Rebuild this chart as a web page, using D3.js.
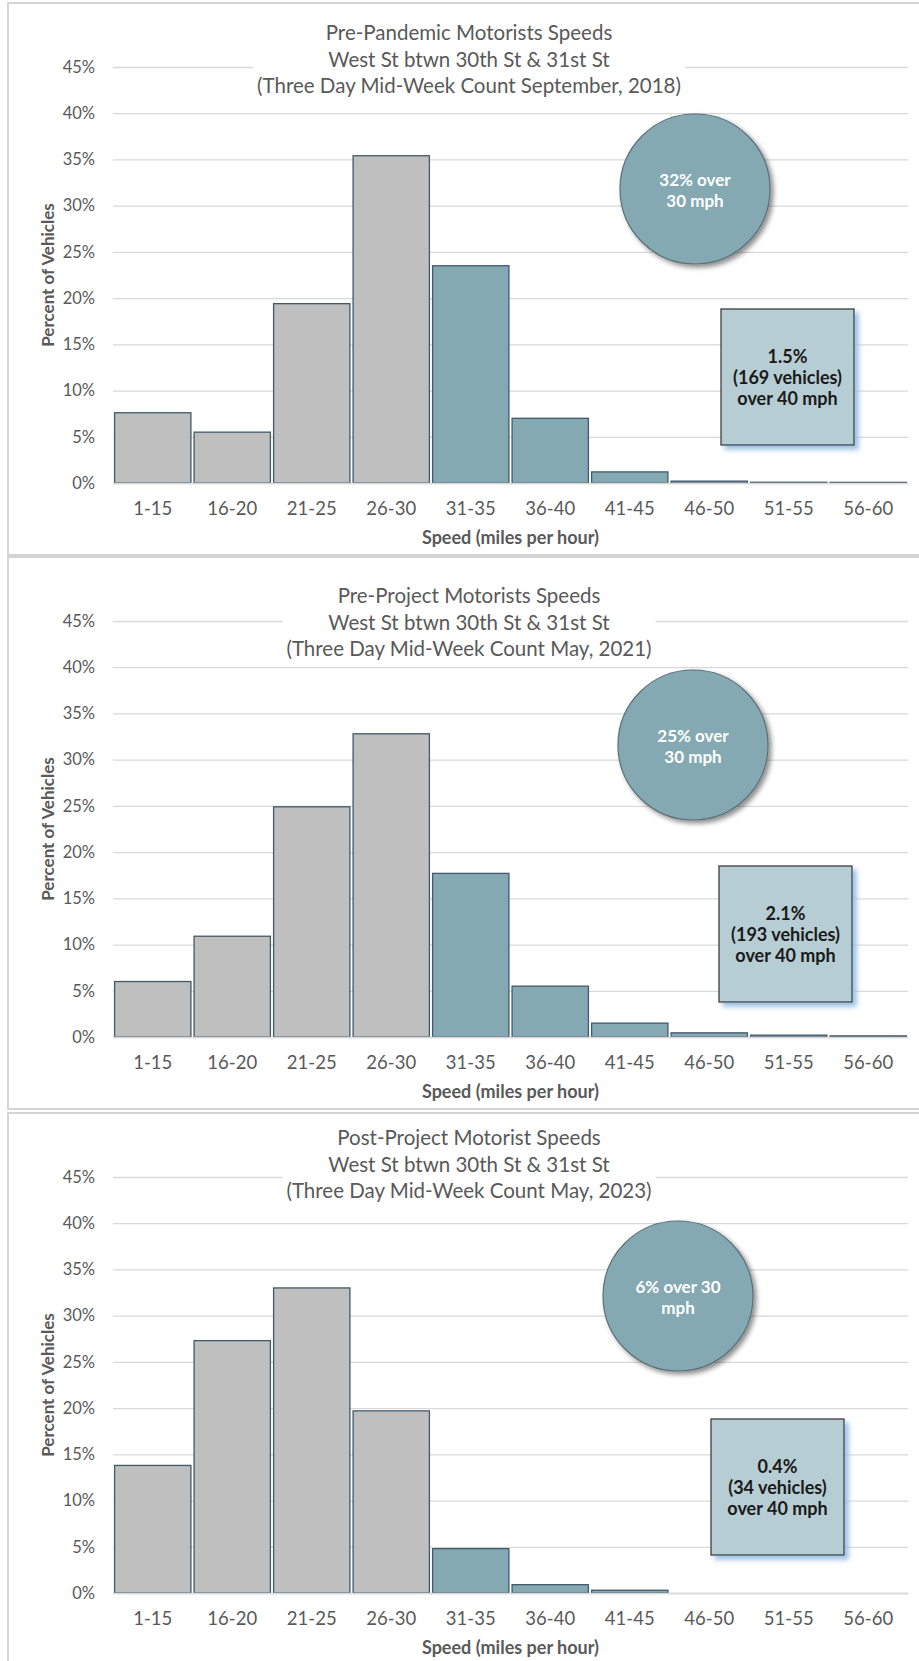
<!DOCTYPE html>
<html>
<head>
<meta charset="utf-8">
<script src="https://cdn.jsdelivr.net/npm/d3@7"></script>
<style>
  body { margin: 0; background: #fff; }
  svg text { font-family: Lato, "Open Sans", sans-serif; }
</style>
</head>
<body>
<div id="chart"></div>
<script>
// speed bins (mph)
var categories = ['1-15', '16-20', '21-25', '26-30', '31-35', '36-40', '41-45', '46-50', '51-55', '56-60'];

// percent of vehicles in each bin
var sept2018 = [7.6, 5.5, 19.4, 35.4, 23.5, 7.0, 1.2, 0.2, 0.08, 0.07];
var may2021 = [6.0, 10.9, 24.9, 32.8, 17.7, 5.5, 1.5, 0.45, 0.2, 0.12];
var may2023 = [13.8, 27.3, 33.0, 19.7, 4.8, 0.9, 0.3, 0, 0, 0];

var yTicks = [0, 5, 10, 15, 20, 25, 30, 35, 40, 45];

var titles = [
  ['Pre-Pandemic Motorists Speeds', 'West St btwn 30th St & 31st St', '(Three Day Mid-Week Count September, 2018)'],
  ['Pre-Project Motorists Speeds', 'West St btwn 30th St & 31st St', '(Three Day Mid-Week Count May, 2021)'],
  ['Post-Project Motorist Speeds', 'West St btwn 30th St & 31st St', '(Three Day Mid-Week Count May, 2023)']
];
var circleLabels = [
  ['32% over', '30 mph'],
  ['25% over', '30 mph'],
  ['6% over 30', 'mph']
];
var boxLabels = [
  ['1.5%', '(169 vehicles)', 'over 40 mph'],
  ['2.1%', '(193 vehicles)', 'over 40 mph'],
  ['0.4%', '(34 vehicles)', 'over 40 mph']
];

// where each panel sits (not data)
var panels = [
  { values: sept2018, top: 3,    titleY: 29, circle: [695, 186], box: [721, 306] },
  { values: may2021,  top: 557,  titleY: 38, circle: [693, 188], box: [719, 309] },
  { values: may2023,  top: 1113, titleY: 24, circle: [678, 183], box: [711, 306] }
];

var W = 919, H = 1661;
var plotLeft = 113, plotRight = 908, plotTop = 64, plotBottom = 480;
var grey = '#bfbfbf', teal = '#84a9b3', barStroke = '#41596b';

var svg = d3.select('#chart').append('svg')
  .attr('width', W)
  .attr('height', H);

var defs = svg.append('defs');
var sh = defs.append('filter').attr('id', 'circleShadow')
  .attr('x', '-20%').attr('y', '-20%').attr('width', '150%').attr('height', '150%');
sh.append('feDropShadow').attr('dx', 3).attr('dy', 3).attr('stdDeviation', 2.5)
  .attr('flood-color', '#000').attr('flood-opacity', 0.45);
var bs = defs.append('filter').attr('id', 'boxShadow')
  .attr('x', '-20%').attr('y', '-20%').attr('width', '150%').attr('height', '150%');
bs.append('feDropShadow').attr('dx', 4).attr('dy', 4).attr('stdDeviation', 2.5)
  .attr('flood-color', '#8fb9e3').attr('flood-opacity', 0.9);

var x = d3.scaleBand()
  .domain(categories)
  .range([plotLeft, plotRight])
  .paddingInner(0.04)
  .paddingOuter(0.02);

var y = d3.scaleLinear()
  .domain([0, 45])
  .range([plotBottom, plotTop]);

function drawPanel(p, i) {
  var g = svg.append('g').attr('transform', 'translate(0,' + p.top + ')');

  // panel frame
  g.append('rect')
    .attr('x', 8).attr('y', 0)
    .attr('width', 940).attr('height', 552)
    .attr('fill', '#fff')
    .attr('stroke', '#d4d4d4')
    .attr('stroke-width', 2);

  // gridlines + y labels
  var yAxis = d3.axisLeft(y)
    .tickValues(yTicks)
    .tickSize(-(plotRight - plotLeft))
    .tickFormat(function(d) { return d + '%'; });
  var ya = g.append('g')
    .attr('transform', 'translate(' + plotLeft + ',0)')
    .call(yAxis);
  ya.select('.domain').remove();
  ya.selectAll('.tick line').attr('stroke', '#d9d9d9').attr('stroke-width', 1.3);
  ya.selectAll('.tick text')
    .attr('x', -18)
    .attr('fill', '#595959')
    .style('font-size', '16.5px');

  // bars
  g.selectAll('.bar')
    .data(p.values)
    .enter().append('rect')
    .attr('class', 'bar')
    .attr('x', function(d, j) { return x(categories[j]); })
    .attr('y', function(d) { return y(d); })
    .attr('width', x.bandwidth())
    .attr('height', function(d) { return plotBottom - y(d); })
    .attr('fill', function(d, j) { return j >= 4 ? teal : grey; })
    .attr('stroke', function(d) { return d > 0 ? barStroke : 'none'; })
    .attr('stroke-width', 1.3);

  // x axis labels
  var xa = g.append('g')
    .attr('transform', 'translate(0,' + plotBottom + ')')
    .call(d3.axisBottom(x).tickSize(0));
  xa.select('.domain').attr('stroke', '#d9d9d9').attr('stroke-width', 1.3);
  xa.selectAll('.tick text')
    .attr('dy', 0)
    .attr('y', 25)
    .attr('dominant-baseline', 'central')
    .attr('fill', '#595959')
    .style('font-size', '18.5px');

  g.append('text')
    .attr('x', (plotLeft + plotRight) / 2)
    .attr('y', 534)
    .attr('text-anchor', 'middle')
    .attr('dominant-baseline', 'central')
    .attr('fill', '#595959')
    .attr('font-weight', 'bold')
    .style('font-size', '18px')
    .text('Speed (miles per hour)');

  g.append('text')
    .attr('transform', 'translate(47,' + (plotTop + plotBottom) / 2 + ') rotate(-90)')
    .attr('text-anchor', 'middle')
    .attr('dominant-baseline', 'central')
    .attr('fill', '#595959')
    .attr('font-weight', 'bold')
    .style('font-size', '17px')
    .text('Percent of Vehicles');

  // title with white backing over gridlines
  var tg = g.append('g');
  var bg = tg.append('rect').attr('fill', '#fff');
  tg.selectAll('text')
    .data(titles[i])
    .enter().append('text')
    .attr('x', 469)
    .attr('y', function(d, k) { return p.titleY + k * 26.5; })
    .attr('text-anchor', 'middle')
    .attr('dominant-baseline', 'central')
    .attr('fill', '#595959')
    .style('font-size', '20.5px')
    .text(function(d) { return d; });
  var bb = tg.node().getBBox();
  bg.attr('x', bb.x - 4).attr('y', bb.y - 2)
    .attr('width', bb.width + 8).attr('height', bb.height + 4);

  // circle callout
  g.append('circle')
    .attr('cx', p.circle[0]).attr('cy', p.circle[1]).attr('r', 75)
    .attr('fill', teal)
    .attr('stroke', '#5b6f78')
    .attr('stroke-width', 1.2)
    .attr('filter', 'url(#circleShadow)');
  g.selectAll('.ctext')
    .data(circleLabels[i])
    .enter().append('text')
    .attr('x', p.circle[0])
    .attr('y', function(d, k) { return p.circle[1] - 10 + k * 21; })
    .attr('text-anchor', 'middle')
    .attr('dominant-baseline', 'central')
    .attr('fill', '#fff')
    .attr('font-weight', 'bold')
    .style('font-size', '17px')
    .text(function(d) { return d; });

  // box callout
  g.append('rect')
    .attr('x', p.box[0]).attr('y', p.box[1])
    .attr('width', 133).attr('height', 136)
    .attr('fill', '#b7cdd4')
    .attr('stroke', '#3c3c3c')
    .attr('stroke-width', 1.3)
    .attr('filter', 'url(#boxShadow)');
  g.selectAll('.btext')
    .data(boxLabels[i])
    .enter().append('text')
    .attr('x', p.box[0] + 66.5)
    .attr('y', function(d, k) { return p.box[1] + 68 - 21 + k * 21; })
    .attr('text-anchor', 'middle')
    .attr('dominant-baseline', 'central')
    .attr('fill', '#1a1a1a')
    .attr('font-weight', 'bold')
    .style('font-size', '18px')
    .text(function(d) { return d; });
}

panels.forEach(drawPanel);
</script>
</body>
</html>
